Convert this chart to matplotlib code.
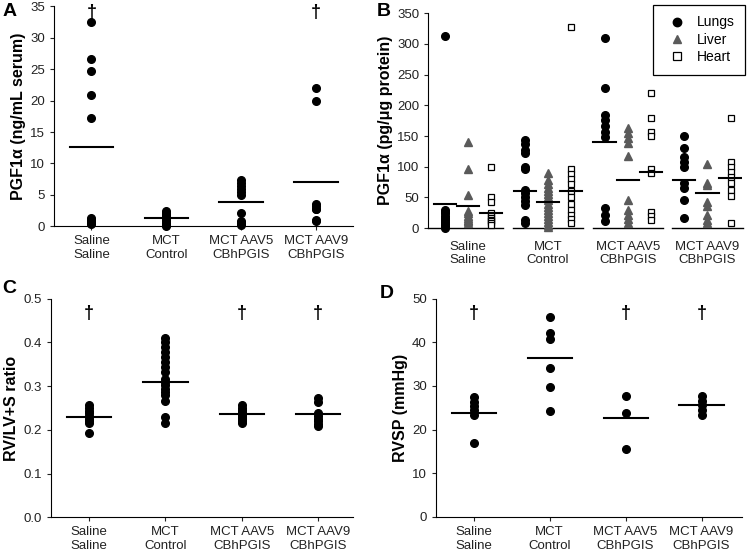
import numpy             as np
import matplotlib.pyplot as plt

plt.rcParams['font.family'] = ['Liberation Sans', 'DejaVu Sans']

ticksize  = 9.5
labelsize = 11.5
dot_size  = 5.5

groups = ['Saline\nSaline', 'MCT\nControl', 'MCT AAV5\nCBhPGIS', 'MCT AAV9\nCBhPGIS']

# Panel A: serum PGF1a (ng/mL)
a_vals = [
    [32.4, 26.6, 24.7, 20.8, 17.3, 1.4, 1.1, 0.8, 0.6, 0.4],
    [2.5, 2.2, 2.0, 1.8, 1.6, 1.4, 1.2, 1.0, 0.8, 0.5, 0.2, 0.0],
    [7.3, 6.9, 6.4, 5.9, 5.4, 5.0, 2.2, 0.8, 0.5, 0.3],
    [22.0, 20.0, 3.6, 3.3, 2.8, 2.7, 1.0, 0.9],
]
a_means  = [12.6, 1.3, 3.85, 7.0]
a_dagger = [34.0, None, None, 34.0]

# Panel B: tissue PGF1a (pg/ug protein)
organs = ['Lungs', 'Liver', 'Heart']
b_lungs = [
    [313, 30, 27, 24, 20, 17, 14, 10, 7, 4, 1],
    [143, 137, 127, 123, 99, 96, 62, 57, 50, 44, 38, 13, 8],
    [309, 229, 184, 176, 167, 157, 149, 33, 22, 11],
    [150, 130, 116, 107, 100, 73, 65, 46, 16],
]
b_liver = [
    [140, 97, 54, 28, 24, 20, 17, 14, 11, 8],
    [90, 78, 72, 66, 60, 55, 50, 45, 40, 35, 30, 25, 20, 15, 10, 5, 2],
    [163, 155, 147, 138, 117, 46, 30, 22, 15, 8],
    [105, 73, 70, 42, 36, 22, 13, 8],
]
b_heart = [
    [100, 50, 42, 24, 20, 17, 14, 11, 8, 5],
    [327, 97, 88, 80, 72, 60, 50, 40, 30, 22, 15, 8],
    [220, 180, 156, 150, 96, 90, 27, 20, 14],
    [179, 108, 100, 91, 84, 73, 62, 53, 8],
]
b_lungs_mean = [40, 60, 141, 79]
b_liver_mean = [36, 42, 79, 57]
b_heart_mean = [25, 61, 92, 82]

# Panel C: RV/LV+S ratio
c_vals = [
    [0.258, 0.250, 0.244, 0.238, 0.232, 0.226, 0.220, 0.215, 0.192],
    [0.410, 0.400, 0.390, 0.378, 0.367, 0.355, 0.344, 0.333, 0.317, 0.310,
     0.302, 0.294, 0.287, 0.279, 0.266, 0.229, 0.216],
    [0.256, 0.250, 0.245, 0.240, 0.235, 0.230, 0.225, 0.220, 0.215],
    [0.272, 0.264, 0.238, 0.232, 0.226, 0.220, 0.214, 0.208],
]
c_means  = [0.230, 0.309, 0.236, 0.237]
c_dagger = [0.465, None, 0.465, 0.465]

# Panel D: RVSP (mmHg)
d_vals = [
    [27.4, 26.4, 25.4, 24.5, 23.4, 16.9],
    [45.8, 42.1, 40.8, 34.0, 29.7, 24.3],
    [27.8, 23.8, 15.6],
    [27.6, 26.6, 25.7, 24.5, 23.4],
]
d_means  = [23.8, 36.4, 22.6, 25.7]
d_dagger = [46.7, None, 46.7, 46.7]


def style_axis(ax, yticks, ylabel, xlim):
    """Common look of the four panels."""
    ax.spines['top'].set_visible(False)
    ax.spines['right'].set_visible(False)
    ax.set_xlim(*xlim)
    ax.set_ylim(yticks[0], yticks[-1])
    ax.set_yticks(yticks)
    ax.set_xticks(range(1, len(groups) + 1))
    ax.set_xticklabels(groups, fontsize=ticksize, linespacing=1.2)
    ax.tick_params(axis='y', labelsize=ticksize, length=3, width=0.8, colors='#222222')
    ax.tick_params(axis='x', length=3, width=0.8, colors='#222222')
    ax.set_ylabel(ylabel, fontsize=labelsize, fontweight='bold', labelpad=3)


def scatter_panel(ax, values, means, daggers):
    for i, vals in enumerate(values):
        x = i + 1
        ax.plot([x] * len(vals), vals, 'o', color='black', markersize=dot_size,
                clip_on=False, zorder=3)
        ax.plot([x - 0.29, x + 0.29], [means[i], means[i]], color='black',
                linewidth=1.5, zorder=4)
        if daggers[i] is not None:
            ax.text(x, daggers[i], '\u2020', ha='center', va='center',
                    fontsize=13, fontweight='bold', clip_on=False)


fig = plt.figure(figsize=(7.5, 5.51), dpi=100)

# A
ax_a = fig.add_axes([0.072, 0.589, 0.399, 0.400])
scatter_panel(ax_a, a_vals, a_means, a_dagger)
style_axis(ax_a, np.arange(0, 36, 5), 'PGF1\u03b1 (ng/mL serum)', (0.5, 4.5))
ax_a.yaxis.set_major_formatter(plt.FormatStrFormatter('%d'))

# B
ax_b = fig.add_axes([0.571, 0.586, 0.418, 0.390])
offset = 0.29
series = [(b_lungs, b_lungs_mean, dict(marker='o', color='black', markersize=dot_size)),
          (b_liver, b_liver_mean, dict(marker='^', color='#5a5a5a', markersize=dot_size)),
          (b_heart, b_heart_mean, dict(marker='s', markerfacecolor='white',
                                       markeredgecolor='black', markeredgewidth=0.9,
                                       markersize=dot_size - 0.5))]
for k, (vals_list, means, style) in enumerate(series):
    for i, vals in enumerate(vals_list):
        x = i + 1 + (k - 1) * offset
        ax_b.plot([x] * len(vals), vals, linestyle='none', clip_on=False, zorder=3,
                  label=organs[k] if i == 0 else None, **style)
        ax_b.plot([x - 0.14, x + 0.14], [means[i], means[i]], color='black',
                  linewidth=1.5, zorder=4)
style_axis(ax_b, np.arange(0, 351, 50), 'PGF1\u03b1 (pg/\u03bcg protein)', (0.5, 4.43))
ax_b.spines['bottom'].set_visible(False)
for i in range(len(groups)):
    left = 0.5 if i == 0 else i + 1 - 0.44
    ax_b.plot([left, i + 1 + 0.44], [0, 0], color='black', linewidth=1.0,
              clip_on=False, zorder=2)
ax_b.tick_params(axis='x', length=0, pad=9)
leg = ax_b.legend(loc='upper right', bbox_to_anchor=(0.993, 0.991),
                  bbox_transform=fig.transFigure, fontsize=10, fancybox=False,
                  edgecolor='black', framealpha=1, borderpad=0.75, borderaxespad=0,
                  labelspacing=0.25, handletextpad=0.4, markerscale=1.1)
leg.get_frame().set_linewidth(0.9)

# C
ax_c = fig.add_axes([0.068, 0.061, 0.403, 0.397])
scatter_panel(ax_c, c_vals, c_means, c_dagger)
style_axis(ax_c, np.round(np.arange(0, 0.51, 0.1), 1), 'RV/LV+S ratio', (0.5, 4.46))
ax_c.yaxis.set_major_formatter(plt.FormatStrFormatter('%.1f'))

# D
ax_d = fig.add_axes([0.581, 0.062, 0.408, 0.396])
scatter_panel(ax_d, d_vals, d_means, d_dagger)
style_axis(ax_d, np.arange(0, 51, 10), 'RVSP (mmHg)', (0.5, 4.53))

# Panel letters
for letter, (x, y) in zip('ABCD', [(0.003, 0.979), (0.503, 0.979), (0.003, 0.476), (0.506, 0.467)]):
    fig.text(x, y, letter, fontsize=14, fontweight='bold', va='center')

plt.savefig('out.png', dpi=100)
